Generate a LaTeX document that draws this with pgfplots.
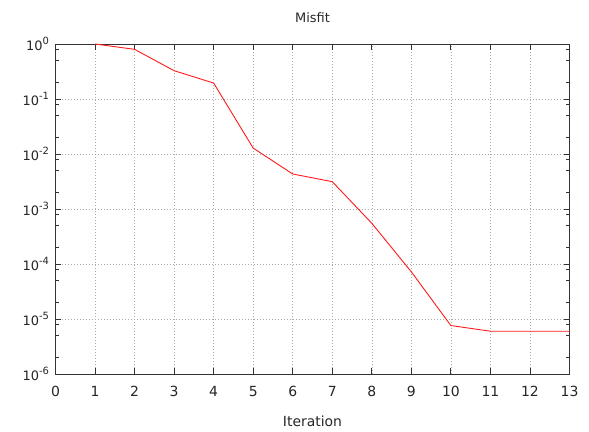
\documentclass[border=0pt]{standalone}
\usepackage{fontspec}
\setmainfont{DejaVu Sans}
\usepackage{pgfplots}
\pgfplotsset{compat=1.18}
\usetikzlibrary{calc}
\newcommand{\expo}[1]{\raisebox{0.85ex}{\fontsize{10}{12}\selectfont #1}}
\begin{document}
\begin{tikzpicture}
\begin{axis}[
  scale only axis,
  width=514bp, height=330bp,
  ymode=log,
  xmin=0, xmax=13, ymin=1e-6, ymax=1,
  xtick={0,...,13},
  ytick={1e-6,1e-5,1e-4,1e-3,1e-2,1e-1,1},
  yticklabels={10\expo{-6},10\expo{-5},10\expo{-4},10\expo{-3},10\expo{-2},10\expo{-1},10\expo{0}},
  minor ytick={2e-6,5e-6,8e-6,2e-5,5e-5,8e-5,2e-4,5e-4,8e-4,2e-3,5e-3,8e-3,2e-2,5e-2,8e-2,2e-1,5e-1,8e-1},
  /pgf/number format/assume math mode=true,
  xticklabel style={font=\fontsize{14}{16}\selectfont, text=black!85, yshift=-9bp},
  yticklabel style={font=\fontsize{13}{15}\selectfont, text=black!85, xshift=-3bp},
  label style={font=\fontsize{14}{16}\selectfont, text=black!85},
  title style={font=\fontsize{13}{15}\selectfont, text=black!85, yshift=12bp},
  title={Misfit},
  xlabel={Iteration},
  xlabel style={yshift=-12bp},
  grid=major,
  major grid style={gray!65, dash pattern=on 1bp off 2bp, line width=0.6pt},
  axis line style={black!80, line width=0.9pt},
  tick style={black!80, line width=0.9pt},
  major tick length=6bp,
  minor tick length=3.5bp,
  tick align=inside,
  xtick pos=both, ytick pos=both,
  clip=false,
]
\addplot[red!90!white, line width=0.9pt] coordinates {
 (1,1.0) (2,0.80) (3,0.327) (4,0.195) (5,0.0128) (6,0.00433) (7,0.00314)
 (8,0.00055) (9,7.2e-5) (10,7.6e-6) (11,6.0e-6) (12,6.0e-6) (13,6.0e-6)
};
\end{axis}
\useasboundingbox ($(current axis.south west)+(-55.5bp,-58bp)$) rectangle ($(current axis.north east)+(19.5bp,44bp)$);
\end{tikzpicture}
\end{document}
